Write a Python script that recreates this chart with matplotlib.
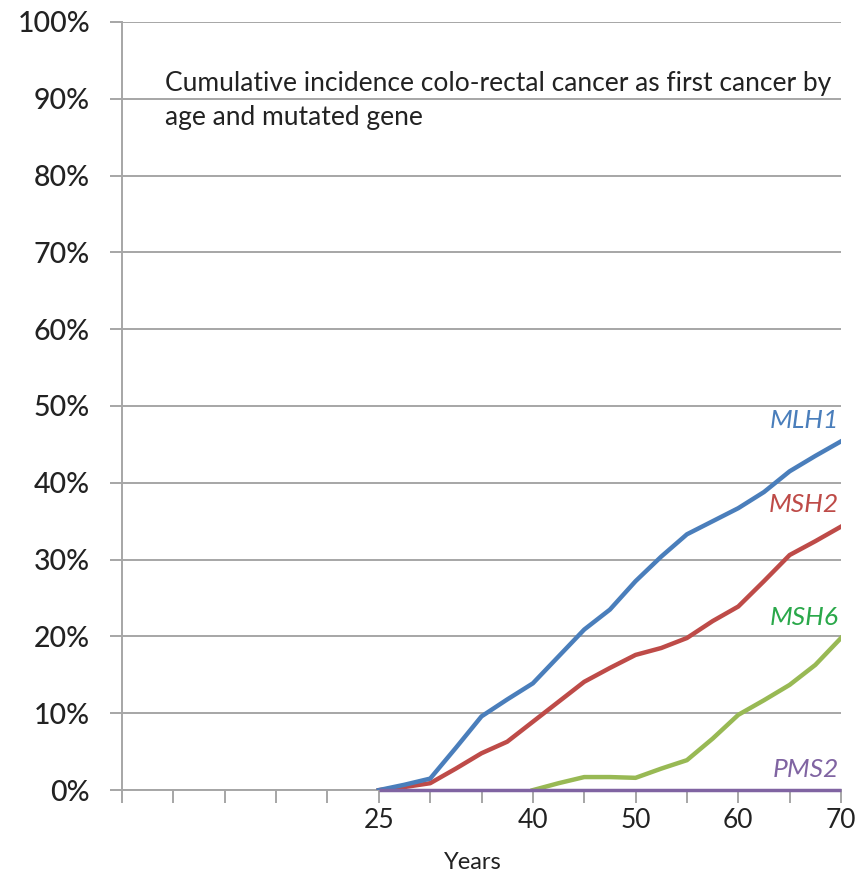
import numpy as np
import matplotlib
matplotlib.use("Agg")
import matplotlib.pyplot as plt
from matplotlib.ticker import FixedLocator, FuncFormatter

# ages (years) at which the curves were read, every 2.5 years
age = [25, 27.5, 30, 32.5, 35, 37.5, 40, 42.5, 45, 47.5, 50, 52.5, 55, 57.5, 60, 62.5, 65, 67.5, 70]

mlh1 = [0, 0.7, 1.5, 5.5, 9.6, 11.8, 13.9, 17.4, 20.9, 23.5, 27.2, 30.4, 33.3, 35.0, 36.7, 38.8, 41.5, 43.5, 45.4]
msh2 = [0, 0.4, 0.9, 2.8, 4.8, 6.3, 8.9, 11.5, 14.1, 15.9, 17.6, 18.5, 19.8, 22.0, 23.9, 27.2, 30.6, 32.4, 34.3]

age6 = [40, 42.5, 45, 47.5, 50, 52.5, 55, 57.5, 60, 62.5, 65, 67.5, 70]
msh6 = [0, 0.9, 1.7, 1.7, 1.6, 2.8, 3.9, 6.7, 9.8, 11.7, 13.7, 16.3, 19.8]

pms2_age = [25, 70]
pms2 = [0, 0]

labels = ["MLH1", "MSH2", "MSH6", "PMS2"]
label_y = [45.4, 34.3, 19.8, 0]

c_blue = "#4a7ebb"
c_red = "#be4b48"
c_green = "#98b954"
c_purple = "#8064a2"
lab_cols = [c_blue, c_red, "#2aa84a", c_purple]

plt.rcParams['font.family'] = ['Lato', 'DejaVu Sans']

fig = plt.figure(figsize=(8.63, 8.75), dpi=100)
ax = fig.add_axes([0.1414, 0.097, 0.8331, 0.878])

ax.plot(pms2_age, pms2, color=c_purple, lw=2.5, solid_capstyle="butt", zorder=7, clip_on=False)
ax.plot(age6, msh6, color=c_green, lw=3.2, zorder=4)
ax.plot(age, msh2, color=c_red, lw=3.2, zorder=5)
ax.plot(age, mlh1, color=c_blue, lw=3.2, zorder=6)

offs = [1.2, 1.4, 1.2, 1.2]
for lab, yv, col, o in zip(labels, label_y, lab_cols, offs):
    ax.text(69.8, yv + o, lab, color=col, fontsize=19, style="italic",
            ha="right", va="bottom")

ax.set_xlim(0, 70)
ax.set_ylim(0, 100)

ax.xaxis.set_major_locator(FixedLocator(np.arange(0, 71, 5)))
shown = {25: "25", 40: "40", 50: "50", 60: "60", 70: "70"}
ax.xaxis.set_major_formatter(FuncFormatter(lambda v, p: shown.get(int(round(v)), "")))
ax.yaxis.set_major_locator(FixedLocator(np.arange(0, 101, 10)))
ax.yaxis.set_major_formatter(FuncFormatter(lambda v, p: f"{int(v)}%"))

ax.grid(axis="y", color="#a6a6a6", lw=1.4)
ax.set_axisbelow(True)
for s in ["top", "right"]:
    ax.spines[s].set_visible(False)
for s in ["left", "bottom"]:
    ax.spines[s].set_color("#a6a6a6")
    ax.spines[s].set_linewidth(1.4)

ax.tick_params(axis="y", length=9, width=1.4, color="#a6a6a6", labelsize=20.5,
               labelcolor="#222222", pad=14)
ax.tick_params(axis="x", length=9, width=1.4, color="#a6a6a6", labelsize=19,
               labelcolor="#222222", pad=4)
for t in ax.get_yticklabels():
    t.set_fontweight("medium")

ax.set_xlabel("Years", fontsize=17, color="#222222")
ax.xaxis.set_label_coords(0.488, -0.08)

ax.text(4.2, 93.6, "Cumulative incidence colo-rectal cancer as first cancer by\nage and mutated gene",
        fontsize=19, color="#222222", va="top", ha="left", linespacing=1.45)

fig.savefig("out.png", dpi=100)
